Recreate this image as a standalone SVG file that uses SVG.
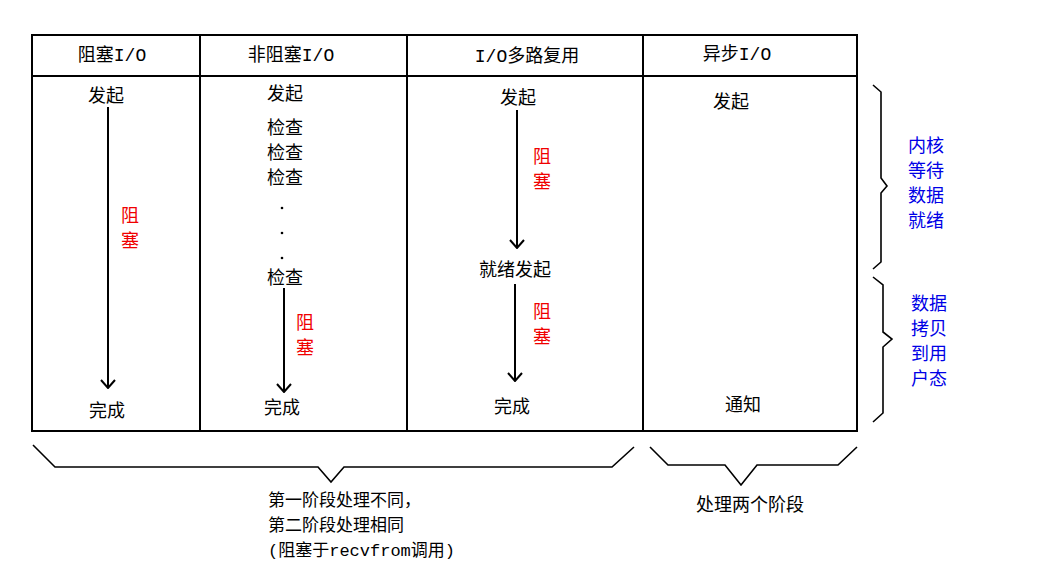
<svg xmlns="http://www.w3.org/2000/svg" width="1058" height="585" viewBox="0 0 1058 585">
<style>
.t{font-family:"Liberation Mono","Noto Sans CJK SC",monospace;font-size:18px;fill:#000;text-anchor:middle}
.r{fill:#f00000}
.b{fill:#0000e6}
.l{text-anchor:start;font-size:17px}
.ln{stroke:#000;stroke-width:2;fill:none}
.br{stroke:#000;stroke-width:1.6;fill:none;stroke-linejoin:miter}
</style>
<defs>
<marker id="ah" viewBox="0 0 12 16" refX="11" refY="8" markerWidth="12" markerHeight="16" markerUnits="userSpaceOnUse" orient="auto">
<path d="M3,1 L11,8 L3,15" fill="none" stroke="#000" stroke-width="2"/>
</marker>
</defs>
<rect width="1058" height="585" fill="#fff"/>
<g id="table">
<rect x="32" y="35" width="825" height="396" class="ln"/>
<line x1="32" y1="76" x2="857" y2="76" class="ln"/>
<line x1="200" y1="35" x2="200" y2="431" class="ln"/>
<line x1="407" y1="35" x2="407" y2="431" class="ln"/>
<line x1="643" y1="35" x2="643" y2="431" class="ln"/>
</g>
<g id="headers">
<text class="t" x="112" y="61">阻塞I/O</text>
<text class="t" x="291" y="61">非阻塞I/O</text>
<text class="t" x="527" y="62">I/O多路复用</text>
<text class="t" x="737" y="60">异步I/O</text>
</g>
<g id="col-blocking">
<text class="t" x="106" y="102">发起</text>
<text class="t r" x="130" y="222">阻</text>
<text class="t r" x="130" y="247">塞</text>
<text class="t" x="107" y="417">完成</text>
</g>
<g id="col-nonblocking">
<text class="t" x="285" y="100">发起</text>
<text class="t" x="285" y="134">检查</text>
<text class="t" x="285" y="159">检查</text>
<text class="t" x="285" y="184">检查</text>
<circle cx="282" cy="208" r="1.3" fill="#000"/>
<circle cx="282" cy="233" r="1.3" fill="#000"/>
<circle cx="282" cy="258" r="1.3" fill="#000"/>
<text class="t" x="285" y="284">检查</text>
<text class="t r" x="305" y="329">阻</text>
<text class="t r" x="305" y="354">塞</text>
<text class="t" x="282" y="414">完成</text>
</g>
<g id="col-multiplex">
<text class="t" x="518" y="104">发起</text>
<text class="t r" x="542" y="163">阻</text>
<text class="t r" x="542" y="188">塞</text>
<text class="t" x="515" y="276">就绪发起</text>
<text class="t r" x="542" y="318">阻</text>
<text class="t r" x="542" y="343">塞</text>
<text class="t" x="512" y="413">完成</text>
</g>
<g id="col-async">
<text class="t" x="731" y="108">发起</text>
<text class="t" x="743" y="411">通知</text>
</g>
<g id="connectors">
<line x1="108" y1="107" x2="108" y2="388" class="ln" marker-end="url(#ah)"/>
<line x1="284" y1="288" x2="284" y2="392" class="ln" marker-end="url(#ah)"/>
<line x1="517" y1="110" x2="517" y2="248" class="ln" marker-end="url(#ah)"/>
<line x1="515" y1="284" x2="515" y2="381" class="ln" marker-end="url(#ah)"/>
</g>
<g id="brace-kernel-wait">
<path class="br" d="M873,85 L881,92 L881,178 L887,186 L881,193 L881,262 L873,269"/>
<text class="t b" x="926" y="152">内核</text>
<text class="t b" x="926" y="177">等待</text>
<text class="t b" x="926" y="202">数据</text>
<text class="t b" x="926" y="227">就绪</text>
</g>
<g id="brace-copy">
<path class="br" d="M873,277 L883,285 L883,332 L892,339 L883,347 L883,413 L873,422"/>
<text class="t b" x="929" y="310">数据</text>
<text class="t b" x="929" y="335">拷贝</text>
<text class="t b" x="929" y="360">到用</text>
<text class="t b" x="929" y="385">户态</text>
</g>
<g id="brace-phase1">
<path class="br" d="M33,445 L55,467 L318,467 L331,482 L344,467 L612,467 L634,447"/>
<text class="t l" x="268" y="506">第一阶段处理不同，</text>
<text class="t l" x="268" y="531">第二阶段处理相同</text>
<text class="t l" x="268" y="556">(阻塞于recvfrom调用)</text>
</g>
<g id="brace-async">
<path class="br" d="M650,447 L668,465 L725,465 L741,485 L757,465 L838,465 L857,447"/>
<text class="t" x="750" y="511">处理两个阶段</text>
</g>
</svg>
